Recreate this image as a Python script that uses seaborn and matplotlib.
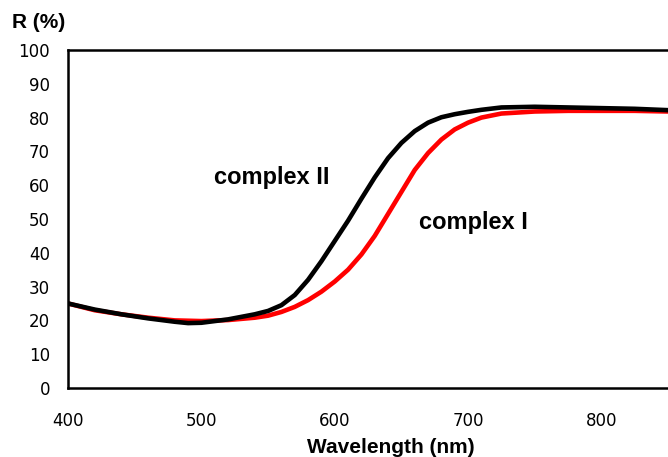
import pandas as pd
import matplotlib.pyplot as plt
import seaborn as sns

# reflectance spectra
wl_2 = [400, 420, 440, 460, 480, 490, 500, 520, 540, 550, 560, 570, 580, 590, 600,
        610, 620, 630, 640, 650, 660, 670, 680, 690, 700, 710, 725, 750, 775, 800,
        825, 850]
r_2 = [25.0, 23.2, 21.8, 20.6, 19.6, 19.2, 19.3, 20.3, 21.8, 22.8, 24.5, 27.5, 32.0,
       37.5, 43.5, 49.5, 56.0, 62.3, 68.0, 72.5, 76.0, 78.5, 80.1, 81.0, 81.7, 82.3,
       83.0, 83.2, 83.0, 82.8, 82.6, 82.2]

wl_1 = [400, 420, 440, 460, 480, 500, 520, 540, 550, 560, 570, 580, 590, 600, 610,
        620, 630, 640, 650, 660, 670, 680, 690, 700, 710, 725, 750, 775, 800, 825, 850]
r_1 = [25.0, 23.0, 21.8, 20.8, 20.0, 19.8, 20.1, 20.8, 21.4, 22.5, 24.0, 26.0, 28.5,
       31.5, 35.0, 39.5, 45.0, 51.5, 58.0, 64.5, 69.5, 73.5, 76.5, 78.5, 80.0, 81.2,
       81.8, 82.0, 82.0, 82.0, 81.8]

df = pd.concat([
    pd.DataFrame({"wl": wl_1, "R": r_1, "sample": "complex I"}),
    pd.DataFrame({"wl": wl_2, "R": r_2, "sample": "complex II"}),
])

sns.set_style("white")
plt.rcParams['font.family'] = ['DejaVu Sans']
plt.rcParams['text.color'] = 'black'

fig = plt.figure(figsize=(6.68, 4.57), dpi=100)
ax = fig.add_axes([0.102, 0.151, 0.898, 0.7396])

sns.lineplot(data=df, x="wl", y="R", hue="sample",
             palette={"complex I": "#ff0000", "complex II": "#000000"},
             linewidth=3.3, legend=False, ax=ax, sort=True)

ax.set_xlim(400, 850)
ax.set_ylim(0, 100)
ax.set_xticks([400, 500, 600, 700, 800])
ax.set_yticks(range(0, 101, 10))
ax.tick_params(direction="in", length=5, width=1.5, labelsize=12,
               colors="black", pad=13)
ax.tick_params(axis="x", pad=17)
for s in ["left", "top", "bottom"]:
    ax.spines[s].set_linewidth(1.8)
    ax.spines[s].set_color("black")
ax.spines["right"].set_visible(False)

ax.set_xlabel("Wavelength (nm)", fontsize=15, fontweight="bold",
              family="Liberation Sans", color="black", va="center")
ax.xaxis.set_label_coords(0.538, -0.1775)
ax.set_ylabel("")
fig.text(0.018, 0.95, "R (%)", fontsize=15, fontweight="bold",
         family="Liberation Sans", va="center", ha="left", color="black")

ax.text(553, 62.4, "complex II", fontsize=17, fontweight="bold",
        family="Liberation Sans", ha="center", va="center", color="black")
ax.text(704, 49, "complex I", fontsize=17, fontweight="bold",
        family="Liberation Sans", ha="center", va="center", color="black")

plt.savefig("out.png", dpi=100)
